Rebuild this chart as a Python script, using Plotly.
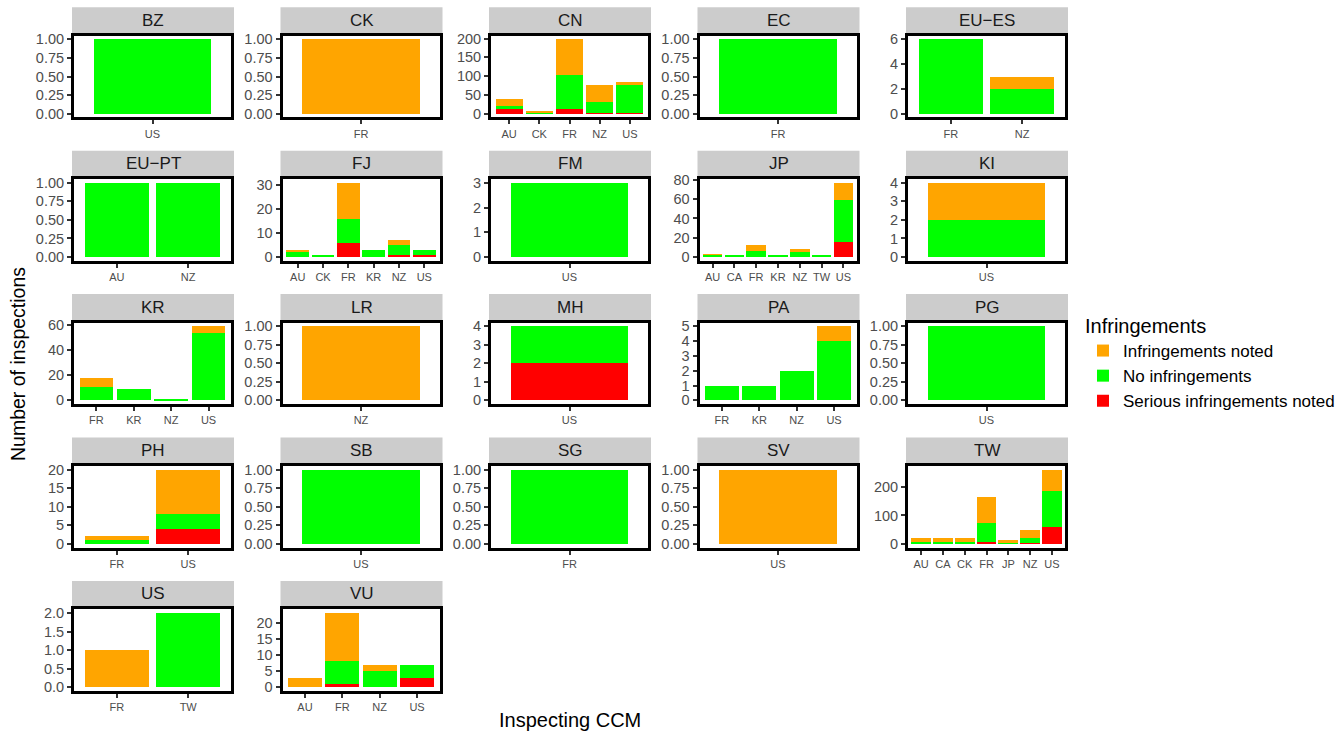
import plotly.graph_objects as go

# ---------------- data ----------------
panels = ["BZ", "CK", "CN", "EC", "EU\u2212ES",
          "EU\u2212PT", "FJ", "FM", "JP", "KI",
          "KR", "LR", "MH", "PA", "PG",
          "PH", "SB", "SG", "SV", "TW",
          "US", "VU"]

ccm = {
    "BZ": ["US"],
    "CK": ["FR"],
    "CN": ["AU", "CK", "FR", "NZ", "US"],
    "EC": ["FR"],
    "EU\u2212ES": ["FR", "NZ"],
    "EU\u2212PT": ["AU", "NZ"],
    "FJ": ["AU", "CK", "FR", "KR", "NZ", "US"],
    "FM": ["US"],
    "JP": ["AU", "CA", "FR", "KR", "NZ", "TW", "US"],
    "KI": ["US"],
    "KR": ["FR", "KR", "NZ", "US"],
    "LR": ["NZ"],
    "MH": ["US"],
    "PA": ["FR", "KR", "NZ", "US"],
    "PG": ["US"],
    "PH": ["FR", "US"],
    "SB": ["US"],
    "SG": ["FR"],
    "SV": ["US"],
    "TW": ["AU", "CA", "CK", "FR", "JP", "NZ", "US"],
    "US": ["FR", "TW"],
    "VU": ["AU", "FR", "NZ", "US"],
}

serious = {
    "BZ": [0], "CK": [0], "CN": [12, 1, 11, 2, 2], "EC": [0],
    "EU\u2212ES": [0, 0], "EU\u2212PT": [0, 0], "FJ": [0, 0, 6, 0, 1, 1],
    "FM": [0], "JP": [0, 0, 0, 0, 0, 0, 16], "KI": [0],
    "KR": [0, 0, 0, 0], "LR": [0], "MH": [2], "PA": [0, 0, 0, 0], "PG": [0],
    "PH": [0, 4], "SB": [0], "SG": [0], "SV": [0],
    "TW": [0, 2, 0, 5, 0, 2, 61], "US": [0, 0], "VU": [0, 1, 0, 3],
}

no_infr = {
    "BZ": [1], "CK": [0], "CN": [9, 2, 91, 29, 75], "EC": [1],
    "EU\u2212ES": [6, 2], "EU\u2212PT": [1, 1], "FJ": [2, 1, 10, 3, 4, 2],
    "FM": [3], "JP": [2, 1, 6, 1, 6, 1, 43], "KI": [2],
    "KR": [11, 9, 1, 54], "LR": [0], "MH": [2], "PA": [1, 1, 2, 4], "PG": [1],
    "PH": [1, 4], "SB": [1], "SG": [1], "SV": [0],
    "TW": [8, 6, 8, 67, 2, 17, 127], "US": [0, 2], "VU": [0, 7, 5, 4],
}

noted = {
    "BZ": [0], "CK": [1], "CN": [17, 3, 96, 44, 6], "EC": [0],
    "EU\u2212ES": [0, 1], "EU\u2212PT": [0, 0], "FJ": [1, 0, 15, 0, 2, 0],
    "FM": [0], "JP": [1, 0, 6, 0, 2, 0, 18], "KI": [2],
    "KR": [7, 0, 0, 5], "LR": [1], "MH": [0], "PA": [0, 0, 0, 1], "PG": [0],
    "PH": [1, 12], "SB": [0], "SG": [0], "SV": [1],
    "TW": [11, 11, 11, 93, 10, 30, 74], "US": [1, 0], "VU": [3, 15, 2, 0],
}

series_names = ["Serious infringements noted", "No infringements", "Infringements noted"]

# ---------------- styles ----------------
colors = {"Serious infringements noted": "#FF0000",
          "No infringements": "#00FF00",
          "Infringements noted": "#FFA500"}
ranks = {"Infringements noted": 1, "No infringements": 2, "Serious infringements noted": 3}

dticks = {"CN": 50, "EU\u2212ES": 2, "FJ": 10, "FM": 1, "JP": 20, "KI": 1,
          "KR": 20, "MH": 1, "PA": 1, "PH": 5, "TW": 100, "US": 0.5, "VU": 5}

W, H = 1343, 736
FONT = "Liberation Sans, Arial, sans-serif"
NCOL = 5
COL_PITCH, ROW_PITCH = 208.5, 143.4

fig = go.Figure()
shapes, annotations = [], []
layout_axes = {}

for i, p in enumerate(panels):
    r, c = divmod(i, NCOL)
    xname = "x" if i == 0 else f"x{i+1}"
    yname = "y" if i == 0 else f"y{i+1}"
    cats = ccm[p]
    data = {"Serious infringements noted": serious[p],
            "No infringements": no_infr[p],
            "Infringements noted": noted[p]}
    for s in series_names:
        fig.add_trace(go.Bar(
            x=cats, y=data[s], name=s, width=0.9,
            marker=dict(color=colors[s], line=dict(width=0)),
            xaxis=xname, yaxis=yname,
            legendgroup=s, showlegend=(i == 0), legendrank=ranks[s],
            hoverinfo="x+y+name"))
    totals = [a + b + d for a, b, d in zip(serious[p], no_infr[p], noted[p])]
    m = max(totals)

    x0 = 74 + COL_PITCH * c
    x1 = 231 + COL_PITCH * c
    yt = 35.7 + ROW_PITCH * r
    yb = 117.3 + ROW_PITCH * r

    dt = dticks.get(p, 0.25)
    fmt = ".2f" if dt == 0.25 else (".1f" if dt == 0.5 else "d")

    layout_axes["xaxis" if i == 0 else f"xaxis{i+1}"] = dict(
        domain=[x0 / W, x1 / W], anchor=yname, type="category",
        categoryorder="array", categoryarray=cats,
        range=[-0.6, len(cats) - 0.4], automargin=False,
        showline=True, mirror=True, linecolor="black", linewidth=3,
        ticks="outside", ticklen=4, tickwidth=1.5, tickcolor="#333333",
        tickfont=dict(size=11, color="#4D4D4D", family=FONT),
        showgrid=False, zeroline=False, fixedrange=True)
    layout_axes["yaxis" if i == 0 else f"yaxis{i+1}"] = dict(
        domain=[1 - yb / H, 1 - yt / H], anchor=xname,
        range=[-0.05 * m, 1.05 * m], dtick=dt, tick0=0, tickformat=fmt,
        automargin=False,
        showline=True, mirror=True, linecolor="black", linewidth=3,
        ticks="outside", ticklen=4, tickwidth=1.5, tickcolor="#333333",
        tickfont=dict(size=14.5, color="#4D4D4D", family=FONT),
        showgrid=False, zeroline=False, fixedrange=True)

    sx0 = 72 + COL_PITCH * c
    sx1 = 234 + COL_PITCH * c
    sy0 = 7.3 + ROW_PITCH * r
    sy1 = 33.3 + ROW_PITCH * r
    shapes.append(dict(type="rect", xref="paper", yref="paper",
                       x0=sx0 / W, x1=sx1 / W, y0=1 - sy1 / H, y1=1 - sy0 / H,
                       fillcolor="#CCCCCC", line=dict(width=0), layer="below"))
    annotations.append(dict(text=p, xref="paper", yref="paper",
                            x=(sx0 + sx1) / 2 / W, y=1 - (sy0 + sy1) / 2 / H,
                            xanchor="center", yanchor="middle", showarrow=False,
                            font=dict(size=17, color="#1A1A1A", family=FONT)))

annotations.append(dict(text="Number of inspections", xref="paper", yref="paper",
                        x=18 / W, y=1 - 364 / H, textangle=-90, showarrow=False,
                        xanchor="center", yanchor="middle",
                        font=dict(size=19.5, color="black", family=FONT)))
annotations.append(dict(text="Inspecting CCM", xref="paper", yref="paper",
                        x=570 / W, y=1 - 720 / H, showarrow=False,
                        xanchor="center", yanchor="middle",
                        font=dict(size=20, color="black", family=FONT)))

fig.update_layout(
    width=W, height=H,
    margin=dict(l=0, r=0, t=0, b=0, pad=0, autoexpand=False),
    paper_bgcolor="white", plot_bgcolor="white",
    barmode="stack", bargap=0.1,
    font=dict(family=FONT, color="black"),
    shapes=shapes, annotations=annotations,
    legend=dict(title=dict(text="Infringements", font=dict(size=20, family=FONT)),
                font=dict(size=17, family=FONT, color="black"),
                x=1083 / W, y=1 - 307 / H, xanchor="left", yanchor="top",
                traceorder="normal", tracegroupgap=0, bgcolor="rgba(0,0,0,0)"),
    **layout_axes,
)

fig.write_html(
    "out.html",
    config={"displayModeBar": False},
    post_script=(
        "document.documentElement.style.margin='0';"
        "document.body.style.margin='0';"
        "document.body.style.overflow='hidden';"
        "var gd=document.getElementsByClassName('plotly-graph-div')[0];"
        "gd.style.position='fixed';gd.style.top='0px';gd.style.left='0px';"
    ),
)
